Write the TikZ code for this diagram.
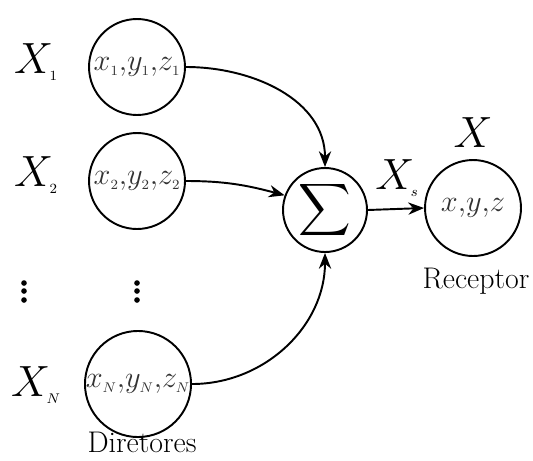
\documentclass[tikz,border=0pt]{standalone}
\usepackage{amsmath}
\usetikzlibrary{arrows.meta}
\newcommand{\tinysub}[1]{\hbox{\fontsize{8}{9}\selectfont$#1$}}
\newcommand{\bigX}{\fontsize{25}{30}\selectfont}
\begin{document}
\begin{tikzpicture}[x=0.02cm,y=-0.02cm,
  dirnode/.style={circle,draw,line width=1.1pt,minimum size=1.92cm,inner sep=0pt,
    font=\fontsize{16}{19}\selectfont,text=black!80},
  sumnode/.style={circle,draw,line width=1.1pt,minimum size=1.68cm,inner sep=0pt},
  lbl/.style={inner sep=0pt,font=\bigX},
  txt/.style={inner sep=0pt,font=\fontsize{17}{20}\selectfont},
  dotnode/.style={circle,fill,inner sep=0pt,minimum size=3.2pt},
  conn/.style={line width=1.1pt,-{Stealth[length=9pt,width=7pt]}}]
\useasboundingbox (0,0) rectangle (533,460);
% director circles
\node[dirnode] (c1) at (137,67) {$x_{\tinysub1}{,}y_{\tinysub1}{,}z_{\tinysub1}$};
\node[dirnode] (c2) at (137,181) {$x_{\tinysub2}{,}y_{\tinysub2}{,}z_{\tinysub2}$};
\node[dirnode] (cN) at (138,384) {$x_{\tinysub N}{,}y_{\tinysub N}{,}z_{\tinysub N}$};
% sum and receptor
\node[sumnode] (s) at (325,210) {\fontsize{20}{24}\selectfont$\displaystyle\sum$};
\node[dirnode] (r) at (473,208) {$x{,}y{,}z$};
% labels
\node[lbl] (l1) at (36,62) {$X_{\tinysub1}$};
\node[lbl] (l2) at (36,175) {$X_{\tinysub2}$};
\node[lbl] (lN) at (36,385) {$X_{\tinysub N}$};
\node[lbl] (lx) at (473,133) {$X$};
\node[lbl] (ls) at (397,178) {$X_{\tinysub s}$};
\node[txt] (rec) at (476,281) {Receptor};
\node[txt] (dir) at (142,442) {Diretores};
% vertical dots
\foreach \yy [count=\i] in {283,291,300}{
  \node[dotnode] (da\i) at (24,\yy) {};
  \node[dotnode] (db\i) at (137,\yy) {};
}
% connectors
\draw[conn] (c1.east) to[out=0,in=90] (s.north);
\draw[conn] (c2.east) to[out=0,in=165] (s.160);
\draw[conn] (cN.east) to[out=0,in=-90] (s.south);
\draw[conn] (s.east) -- (r.west);
\end{tikzpicture}
\end{document}
